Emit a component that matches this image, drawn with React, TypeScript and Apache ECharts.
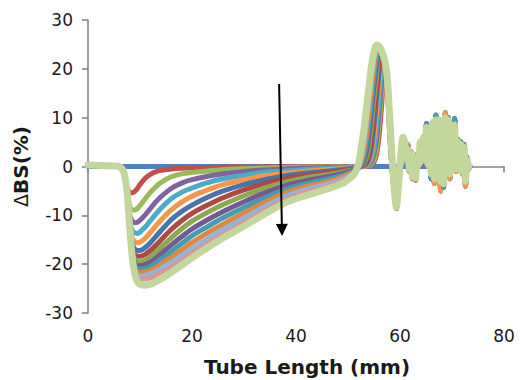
import React, { useEffect, useRef } from "react";
import * as echarts from "echarts";

// Tube length grid (mm) shared by the dip / peak part of every curve
const tubeLength = [0, 5, 6, 6.5, 7, 7.5, 8, 8.5, 9, 9.5, 10, 11, 12, 13, 14, 16, 18, 20, 23, 26, 30, 34, 38, 42, 46, 49, 51, 51.5, 52, 52.5, 53, 53.5, 54, 54.5, 55, 55.5, 56, 56.5, 57, 57.5, 58, 58.5, 59];
// Tube length grid (mm) for the noisy top part of the tube
const tailLength = [59.3, 59.7, 60.2, 60.6, 60.9, 61.2, 61.5, 61.8, 62.1, 62.4, 62.7, 63.0, 63.3, 63.6, 63.9, 64.2, 64.5, 64.8, 65.1, 65.4, 65.7, 66.0, 66.3, 66.6, 66.9, 67.2, 67.5, 67.8, 68.1, 68.4, 68.7, 69.0, 69.3, 69.6, 69.9, 70.2, 70.5, 70.8, 71.1, 71.4, 71.7, 72.0, 72.3, 72.6, 72.9, 73.2];

// Reference scan (t = 0)
const baselineLength = [0, 73.5];
const baselineBS = [0, 0];

// ΔBS (%) per scan
const bs01 = [0.3, 0.1, 0, -0.4, -1.6, -4.2, -5.3, -5.4, -5.1, -4.5, -3.7, -2.4, -1.6, -1.1, -0.8, -0.5, -0.35, -0.3, -0.2, -0.15, -0.1, -0.08, -0.05, -0.03, 0, 0, 0, 0, 0, 0, 0, 0, 0.1, 0.3, 0.9, 2.5, 6.5, 13, 20.5, 17, 7, -1, -6];
const bs02 = [0.3, 0.1, 0, -0.4, -1.6, -5, -8, -8.9, -8.9, -8.6, -8.0, -6.6, -5.3, -4.2, -3.3, -2.1, -1.5, -1.2, -0.9, -0.65, -0.45, -0.3, -0.2, -0.12, -0.08, -0.05, -0.03, 0, 0, 0, 0, 0.1, 0.2, 0.5, 1.4, 3.6, 9, 15.5, 21.5, 17.5, 7.5, -1, -6];
const bs03 = [0.3, 0.1, 0, -0.4, -1.6, -5, -9.8, -11.2, -11.5, -11.4, -11.0, -9.9, -8.6, -7.3, -6.2, -4.5, -3.4, -2.7, -2.0, -1.5, -1.0, -0.7, -0.5, -0.3, -0.2, -0.12, -0.08, -0.05, 0, 0, 0.1, 0.2, 0.4, 1.0, 2.6, 5.8, 11.8, 17.5, 21.8, 17.8, 8, -0.5, -6];
const bs04 = [0.3, 0.1, 0, -0.4, -1.6, -5, -11, -13.1, -13.6, -13.7, -13.4, -12.4, -11.1, -9.8, -8.6, -6.6, -5.3, -4.4, -3.3, -2.5, -1.8, -1.2, -0.9, -0.6, -0.4, -0.25, -0.15, -0.1, -0.05, 0, 0.1, 0.3, 0.6, 1.5, 3.6, 8.5, 14, 20, 21.8, 18, 8.5, -0.5, -6];
const bs05 = [0.3, 0.1, 0, -0.4, -1.6, -5, -11.6, -14.7, -15.4, -15.6, -15.5, -14.7, -13.5, -12.2, -11.0, -8.9, -7.3, -6.1, -4.8, -3.7, -2.7, -1.9, -1.4, -0.95, -0.65, -0.4, -0.25, -0.15, -0.1, 0, 0.1, 0.3, 0.9, 2.3, 6, 11.5, 17, 22.3, 21.6, 18, 8.5, -0.5, -6];
const bs06 = [0.3, 0.1, 0, -0.4, -1.6, -5, -12, -15.9, -16.9, -17.2, -17.2, -16.6, -15.6, -14.4, -13.2, -10.9, -9.2, -7.9, -6.3, -5.0, -3.7, -2.7, -1.9, -1.35, -0.95, -0.6, -0.35, -0.25, -0.15, 0, 0.2, 0.5, 1.5, 3.7, 8.5, 14, 19.5, 22.8, 21.6, 18.2, 9, 0, -6];
const bs07 = [0.3, 0.1, 0, -0.4, -1.6, -5, -12, -16.9, -18.0, -18.4, -18.4, -18.0, -17.2, -16.2, -15.1, -12.9, -11.1, -9.6, -7.9, -6.4, -4.8, -3.5, -2.5, -1.8, -1.3, -0.85, -0.5, -0.35, -0.2, 0, 0.3, 1.0, 2.7, 6, 11.5, 16.5, 21.5, 23, 21.6, 18.3, 9, 0, -6];
const bs08 = [0.3, 0.1, 0, -0.4, -1.6, -5, -12, -17.6, -19.0, -19.5, -19.5, -19.2, -18.5, -17.6, -16.6, -14.6, -12.8, -11.2, -9.4, -7.8, -6.0, -4.4, -3.2, -2.3, -1.7, -1.1, -0.65, -0.45, -0.2, 0.2, 0.6, 1.7, 4.1, 8.5, 14, 18.8, 23, 22.9, 21.7, 18.4, 9.2, 0, -6];
const bs09 = [0.3, 0.1, 0, -0.4, -1.6, -5, -12, -18.1, -19.8, -20.3, -20.3, -20.1, -19.6, -18.8, -17.9, -16.1, -14.4, -12.8, -10.9, -9.2, -7.2, -5.4, -3.9, -2.9, -2.1, -1.4, -0.8, -0.55, -0.2, 0.3, 1.0, 2.9, 6.3, 11.2, 16.5, 21, 23.6, 23, 21.7, 18.5, 9.5, 0.2, -6];
const bs10 = [0.3, 0.1, 0, -0.4, -1.6, -5, -12, -18.4, -20.4, -21.0, -21.0, -20.9, -20.5, -19.8, -19.0, -17.4, -15.8, -14.2, -12.3, -10.5, -8.4, -6.4, -4.7, -3.5, -2.6, -1.75, -1.0, -0.7, -0.2, 0.5, 1.7, 4.4, 8.6, 13.5, 18.5, 22.3, 23.7, 23, 21.7, 18.5, 9.6, 0.3, -6];
const bs11 = [0.3, 0.1, 0, -0.4, -1.6, -5, -12, -18.5, -21.0, -21.7, -21.7, -21.6, -21.3, -20.7, -20.0, -18.6, -17.1, -15.6, -13.6, -11.8, -9.5, -7.3, -5.4, -4.1, -3.1, -2.1, -1.2, -0.8, -0.1, 1.0, 2.9, 6.1, 10.8, 15.8, 20.5, 23.5, 24, 23.2, 21.8, 18.6, 9.8, 0.5, -6];
const bs12 = [0.3, 0.1, 0, -0.4, -1.6, -5, -12, -18.5, -21.5, -22.3, -22.4, -22.3, -22.0, -21.5, -20.9, -19.7, -18.3, -16.8, -14.8, -12.9, -10.6, -8.2, -6.1, -4.7, -3.6, -2.5, -1.4, -0.9, 0, 1.6, 4.3, 8.3, 13, 18, 22, 24.2, 24.2, 23.3, 21.8, 18.7, 10, 0.8, -6];
const bs13 = [0.3, 0.1, 0, -0.4, -1.6, -5, -12, -18.5, -21.9, -22.9, -23.1, -23.0, -22.8, -22.3, -21.8, -20.7, -19.3, -17.8, -15.8, -13.9, -11.5, -9.0, -6.8, -5.3, -4.1, -2.9, -1.6, -1.0, 0.2, 2.5, 5.8, 10.5, 15.3, 20, 23.2, 24.6, 24.4, 23.4, 21.9, 18.7, 10.2, 1, -6];
const bs14 = [0.3, 0.1, 0, -0.4, -1.6, -5, -12, -18.5, -22.0, -23.6, -24.1, -24.3, -24.1, -23.6, -23.0, -21.7, -20.2, -18.7, -16.6, -14.6, -12.2, -9.7, -7.4, -5.9, -4.6, -3.4, -1.8, -1.0, 0.5, 3.5, 7, 11.5, 16, 20.5, 23.5, 24.9, 24.6, 23.6, 22, 18.8, 10.5, 1.5, -6];

// Noisy region above the peak (early, middle and late scans)
const tailEarly = [-8.6, -4, 3, 6, 5, 2, 4.5, -1, 3, -2.5, 1.5, -2.8, 2.5, 0, 5, 2, 6, 1, 7.5, 0, 7, -2, 8.5, -3.5, 9, -1, 8.5, -5, 8, -3, 11, 0.5, 9, -2.5, 7.5, 1.5, 8, -1, 5.5, -0.5, 4, -1.5, 3.5, -4, 1, -0.5];
const tailMid = [-8.5, -4.5, 2.5, 5.5, 4.5, 1, 4, -0.5, 2, -2, 0.5, -2.5, 1.5, 1, 4.5, 3, 5.5, 2, 8.8, 1, 6.5, -2.5, 8.5, -2, 10.5, 0.5, 9, -2.5, 9, -4.2, 9.5, 1.5, 10, -1, 8.5, 2.5, 9.8, 0, 5.5, 0.5, 5, -0.5, 4.5, -2.5, 2, 0];
const tailLate = [-8.3, -4, 3, 6, 5, 1.5, 3.5, -0.5, 2.5, -2, 1, -2.3, 2, 0.5, 5, 2.5, 6, 1.5, 8, 0.5, 7, -1.5, 9, -2.5, 9.5, 0, 9.5, -3, 8.5, -3.5, 10, 1, 9.5, -1.5, 8, 2, 8.5, -0.5, 5, 0, 4.5, -1, 4, -3, 1.5, 0];
const tailOfScan = [0, 0, 0, 0, 0, 1, 1, 1, 1, 1, 2, 2, 2, 2];

const scanColors = [
  "#4F81BD", "#C0504D", "#9BBB59", "#8064A2", "#4BACC6", "#F79646",
  "#4774AA", "#AD4845", "#8CA850", "#735A92", "#449BB2", "#DE873F",
  "#95B3D7", "#D99694", "#C3D69B",
];

// Arrow annotation (data coordinates)
const arrowStart = [36.75, 16.9];
const arrowEnd = [37.3, -13.0];

const xTicks = { min: 0, max: 80, interval: 20 };
const yTicks = { min: -30, max: 30, interval: 10 };

const FONT = '"DejaVu Sans", "Liberation Sans", Arial, sans-serif';
const AXIS_GRAY = "#868686";
const TEXT = "#1a1a1a";

export default function App() {
  const ref = useRef<HTMLDivElement>(null);
  useEffect(() => {
    if (!ref.current) return;
    const chart = echarts.init(ref.current, null, { renderer: "svg" });
    const curves = [bs01, bs02, bs03, bs04, bs05, bs06, bs07, bs08, bs09, bs10, bs11, bs12, bs13, bs14];
    const tails = [tailEarly, tailMid, tailLate];

    const series: any[] = [];
    series.push({
      name: "scan0",
      type: "line",
      data: baselineLength.map((x, i) => [x, baselineBS[i]]),
      showSymbol: false,
      symbol: "none",
      lineStyle: { color: scanColors[0], width: 5, cap: "round", join: "round" },
      silent: true,
    });
    curves.forEach((c, k) => {
      const tail = tails[tailOfScan[k]];
      const data = tubeLength.map((x, i) => [x, c[i]]).concat(tailLength.map((x, i) => [x, tail[i]]));
      const last = k === curves.length - 1;
      const s: any = {
        name: "scan" + (k + 1),
        type: "line",
        data,
        smooth: 0.3,
        showSymbol: false,
        symbol: "none",
        lineStyle: { color: scanColors[k + 1], width: last ? 7 : 5, cap: "round", join: "round" },
        silent: true,
      };
      if (last) {
        s.markLine = {
          silent: true,
          symbol: ["none", "triangle"],
          symbolSize: 12,
          label: { show: false },
          lineStyle: { color: "#000", width: 2, type: "solid" },
          emphasis: { disabled: true },
          data: [[{ coord: arrowStart }, { coord: arrowEnd }]],
        };
      }
      series.push(s);
    });

    chart.setOption({
      animation: false,
      backgroundColor: "#fff",
      grid: { left: 88, top: 20, width: 416, height: 293, containLabel: false, outerBoundsMode: "none" },
      xAxis: [
        {
          type: "value",
          ...xTicks,
          position: "bottom",
          axisLine: { show: true, onZero: true, lineStyle: { color: AXIS_GRAY, width: 1.6 } },
          axisTick: { show: true, length: 6, inside: false, lineStyle: { color: AXIS_GRAY, width: 1.6 } },
          axisLabel: { show: false },
          splitLine: { show: false },
        },
        {
          type: "value",
          ...xTicks,
          position: "bottom",
          axisLine: { show: false, onZero: false },
          axisTick: { show: false },
          splitLine: { show: false },
          axisLabel: { show: true, fontSize: 17, fontFamily: FONT, color: TEXT, margin: 14 },
          name: "Tube Length (mm)",
          nameLocation: "middle",
          nameGap: 44,
          nameTextStyle: { fontSize: 20, fontWeight: "bold", fontFamily: FONT, color: TEXT, padding: [0, 0, 0, 22] },
        },
      ],
      yAxis: {
        type: "value",
        ...yTicks,
        axisLine: { show: true, onZero: false, lineStyle: { color: AXIS_GRAY, width: 1.6 } },
        axisTick: { show: true, length: 6, inside: false, lineStyle: { color: AXIS_GRAY, width: 1.6 } },
        axisLabel: { show: true, fontSize: 17, fontFamily: FONT, color: TEXT, margin: 15 },
        splitLine: { show: false },
        name: "{d|Δ}{b|BS(%)}",
        nameLocation: "middle",
        nameRotate: 90,
        nameGap: 57,
        nameTextStyle: {
          color: TEXT,
          rich: {
            d: { fontSize: 19, fontWeight: "normal", fontFamily: FONT, color: TEXT },
            b: { fontSize: 20, fontWeight: "bold", fontFamily: FONT, color: TEXT },
          },
        },
      },
      series,
    });
    return () => chart.dispose();
  }, []);
  return <div ref={ref} style={{ position: "fixed", left: 0, top: 0, width: 521, height: 380 }} />;
}
